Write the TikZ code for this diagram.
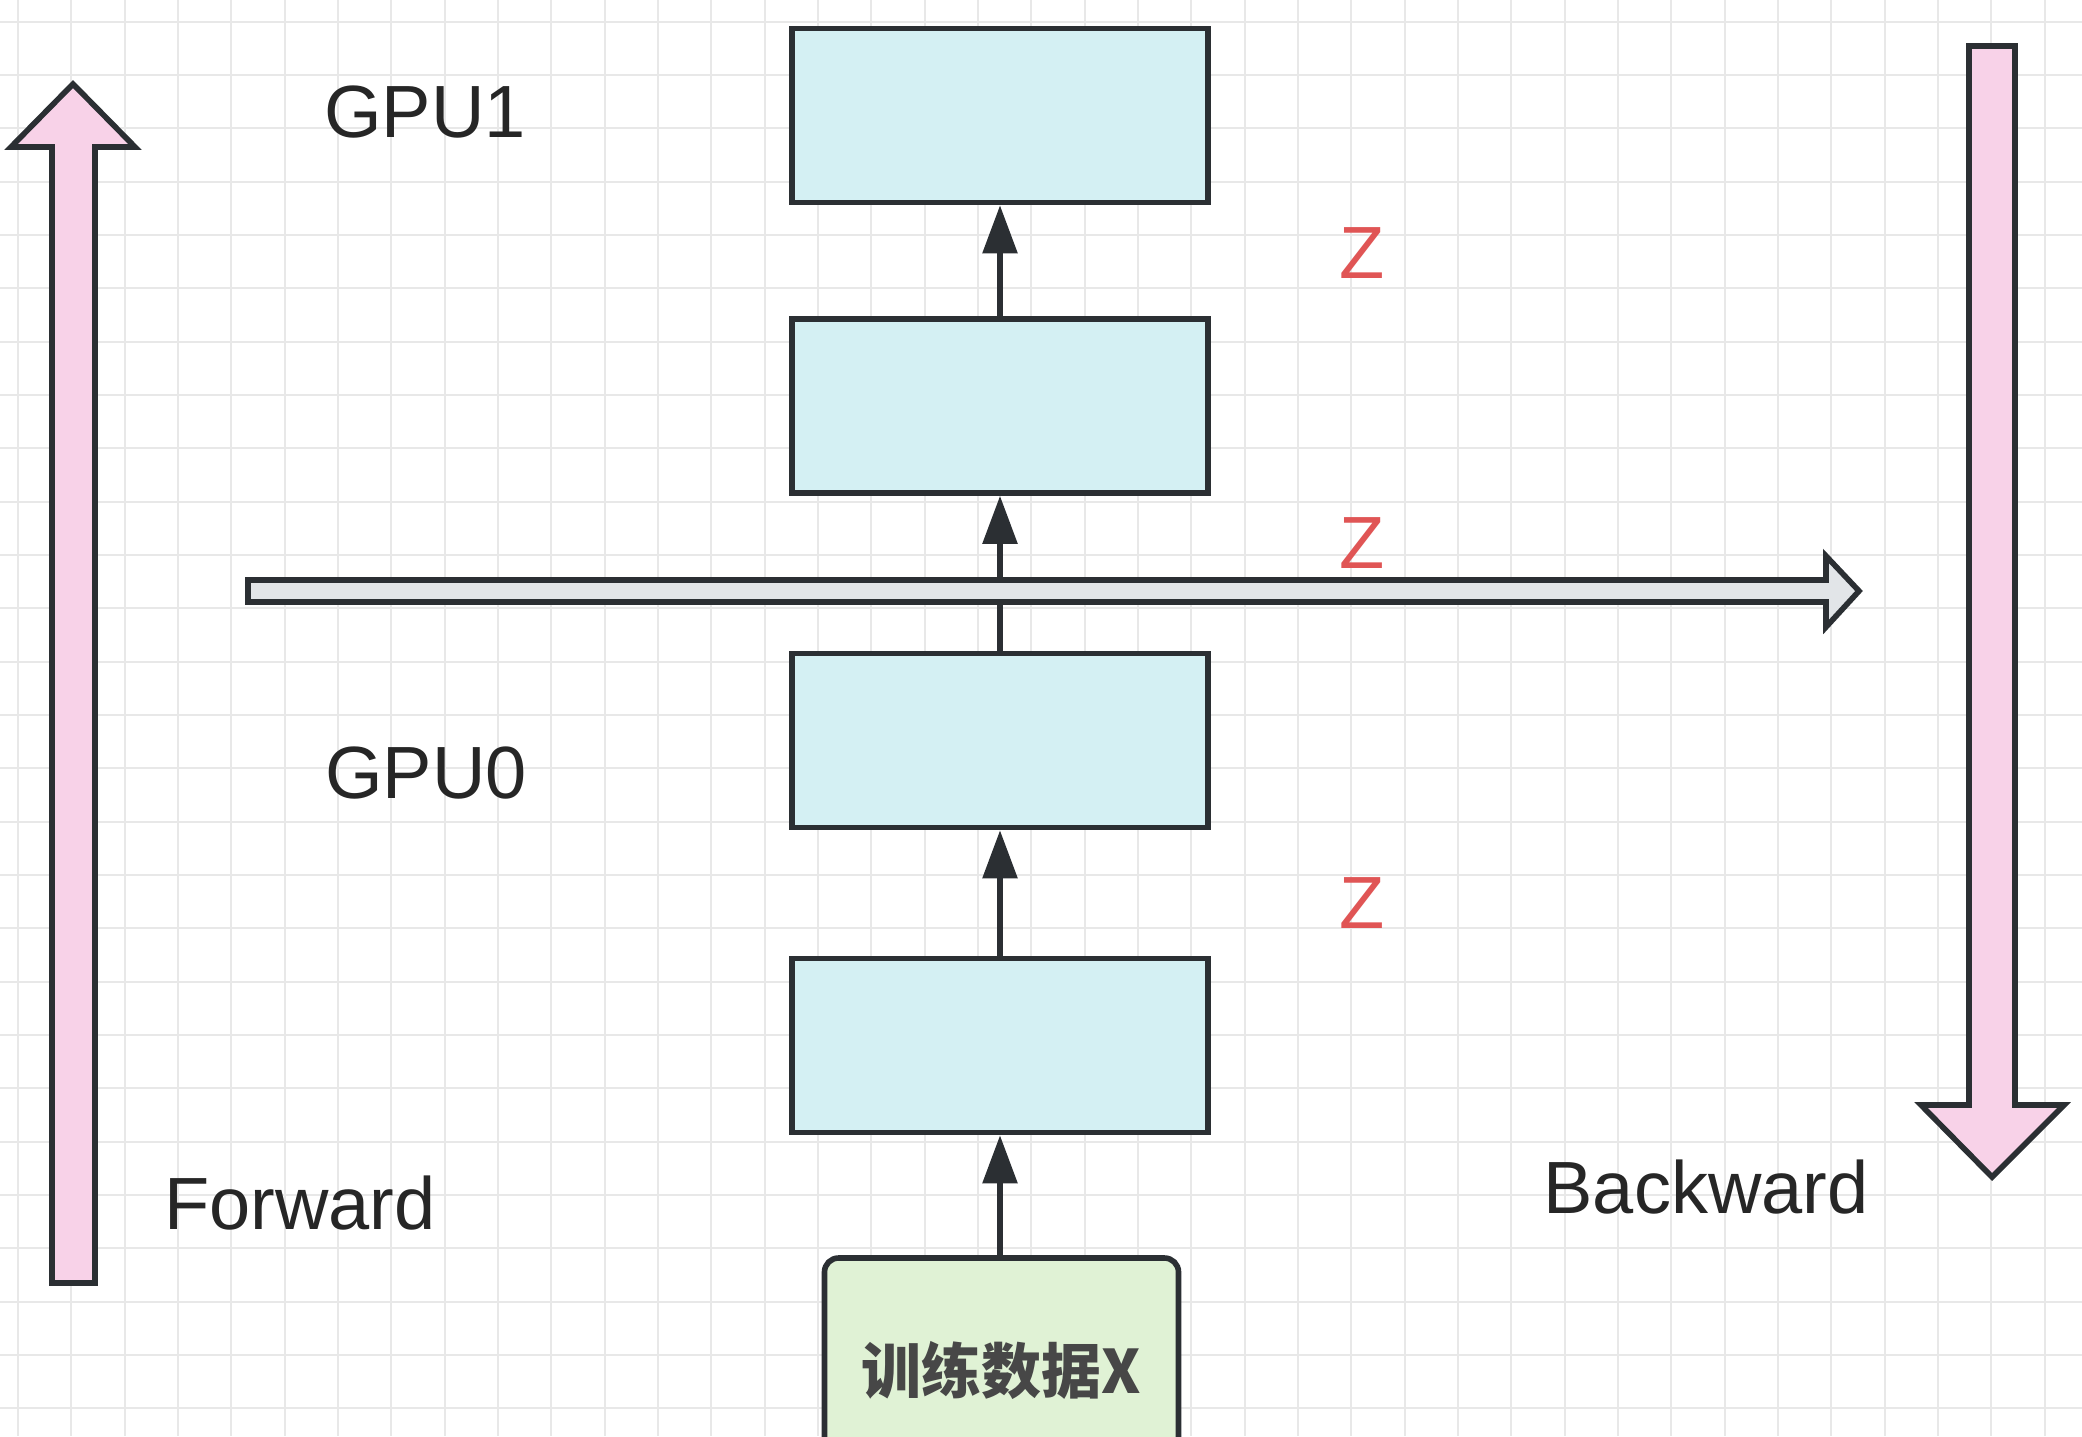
\documentclass[tikz,border=0pt]{standalone}
\usepackage{fontspec}
\setmainfont{Liberation Sans}
\newfontfamily\lblfont{Liberation Sans}
\newfontfamily\cjkfont{Noto Sans CJK SC}
\usetikzlibrary{arrows.meta}
\definecolor{gridc}{HTML}{E8E8E8}
\definecolor{strokec}{HTML}{2B2F33}
\definecolor{boxfill}{HTML}{D4F0F3}
\definecolor{greenfill}{HTML}{E0F2D5}
\definecolor{pinkfill}{HTML}{F8D2E8}
\definecolor{grayfill}{HTML}{E2E5E8}
\definecolor{zred}{HTML}{E05555}
\definecolor{textc}{HTML}{262626}
\begin{document}
\begin{tikzpicture}[x=0.5pt,y=-0.5pt,
  layerbox/.style={draw=strokec, line width=2.8pt, fill=boxfill, minimum width=208pt, minimum height=87pt, inner sep=0pt},
  databox/.style={draw=strokec, line width=2.8pt, fill=greenfill, rounded corners=7pt, minimum width=177pt, minimum height=112pt, inner sep=0pt, font=\cjkfont\bfseries\fontsize{30}{36}\selectfont, text=textc!85},
  lbl/.style={font=\lblfont\fontsize{37}{44}\selectfont, text=textc, inner sep=0pt},
  zlbl/.style={font=\lblfont\fontsize{37}{44}\selectfont, text=zred, inner sep=0pt},
  flow/.style={draw=strokec, line width=2.8pt, -{Triangle[length=24pt,width=17pt]}},
  blockarrow/.style={draw=strokec, line width=2.8pt, line join=miter}
]
% canvas
\fill[white] (0,0) rectangle (2082,1436);
\useasboundingbox (0,0) rectangle (2082,1436);
% grid
\begin{scope}
  \clip (0,0) rectangle (2082,1436);
  \foreach \k in {0,...,39} {
    \draw[gridc, line width=1pt] ({18+53.333*\k},0) -- ({18+53.333*\k},1436);
  }
  \foreach \k in {0,...,27} {
    \draw[gridc, line width=1pt] (0,{21.7+53.333*\k}) -- (2082,{21.7+53.333*\k});
  }
\end{scope}

% forward / backward block arrows
\draw[blockarrow, fill=pinkfill] (52,1283) -- (52,147) -- (11,147) -- (73,84) -- (135,147) -- (95,147) -- (95,1283) -- cycle;
\draw[blockarrow, fill=pinkfill] (1969,46) -- (1969,1105) -- (1921,1105) -- (1992,1177) -- (2064,1105) -- (2015,1105) -- (2015,46) -- cycle;

% layer boxes
\node[layerbox] (b1) at (1000,115.5) {};
\node[layerbox] (b2) at (1000,406) {};
\node[layerbox] (b3) at (1000,740.5) {};
\node[layerbox] (b4) at (1000,1045.5) {};
\node[databox] (data) at (1001.5,1370) {训练数据X};

% connectors
\draw[flow] (data.north -| b4.south) -- (b4.south);
\draw[flow] (b4.north) -- (b3.south);
\draw[flow] (b3.north) -- (b2.south);
\draw[flow] (b2.north) -- (b1.south);

% split arrow (drawn on top)
\draw[blockarrow, fill=grayfill] (248,580) -- (1826,580) -- (1826,556) -- (1859,591) -- (1826,627) -- (1826,602) -- (248,602) -- cycle;

% labels
\node[lbl] (gpu1) at (425,112) {GPU1};
\node[lbl] (gpu0) at (426,773) {GPU0};
\node[lbl] (fwd) at (300,1203) {Forward};
\node[lbl] (bwd) at (1706,1187) {Backward};
\node[zlbl] (z1) at (1362,253) {Z};
\node[zlbl] (z2) at (1362,543) {Z};
\node[zlbl] (z3) at (1362,903) {Z};
\end{tikzpicture}
\end{document}
